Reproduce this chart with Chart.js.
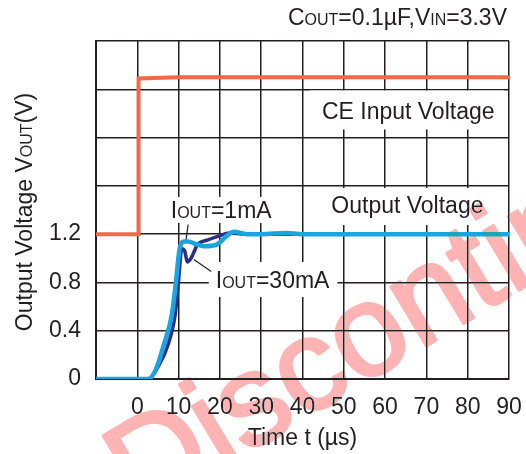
<!DOCTYPE html>
<html>
<head>
<meta charset="utf-8">
<script src="https://cdn.jsdelivr.net/npm/chart.js@4/dist/chart.umd.min.js"></script>
<style>
  body { margin: 0; background: #fff; }
  canvas { display: block; }
</style>
</head>
<body>
<canvas id="chart" width="526" height="454"></canvas>
<script>
// time axis in microseconds, voltages in volts
const ceTime = [-10, 0.3, 0.3, 10, 90];
const ceVolt = [1.2, 1.2, 2.49, 2.5, 2.5];

const out1mATime = [-10, 2.6, 4.5, 6.3, 8.4, 9.4, 10.2, 11.3, 12.3, 14, 16.1, 19, 21.8, 23.4, 26.6, 30, 36, 40, 50, 90];
const out1mAVolt = [0, 0, 0.08, 0.27, 0.54, 0.82, 1.07, 1.14, 1.14, 1.12, 1.10, 1.11, 1.19, 1.22, 1.20, 1.20, 1.21, 1.20, 1.20, 1.20];

const out30mATime = [-10, 2.8, 5, 7.3, 9.2, 10.0, 10.8, 11.5, 12.1, 13, 13.7, 14.5, 16.9, 19.3, 22.4, 26, 35, 90];
const out30mAVolt = [0, 0, 0.10, 0.27, 0.54, 0.82, 1.08, 1.06, 0.97, 1.00, 1.05, 1.11, 1.15, 1.18, 1.21, 1.20, 1.20, 1.20];

const xTicks = [-10, 0, 10, 20, 30, 40, 50, 60, 70, 80, 90];
const yTicks = [0, 0.4, 0.8, 1.2];

const ink = '#231f20';
const FONT = '"Liberation Sans", Arial, Helvetica, sans-serif';
const BIG = 23, SMALL = 16;

const zip = (xs, ys) => xs.map((x, i) => ({ x: x, y: ys[i] }));

// text pieces: [string, size]; small size gives the OUT / IN suffixes
function measureRuns(ctx, runs) {
  let w = 0;
  runs.forEach(r => {
    ctx.font = r[1] + 'px ' + FONT;
    w += ctx.measureText(r[0]).width;
  });
  return w;
}

function drawRuns(ctx, runs, x, y, align) {
  const w = measureRuns(ctx, runs);
  let cx = align === 'right' ? x - w : (align === 'center' ? x - w / 2 : x);
  ctx.textAlign = 'left';
  ctx.textBaseline = 'alphabetic';
  runs.forEach(r => {
    ctx.font = r[1] + 'px ' + FONT;
    ctx.fillText(r[0], cx, y);
    cx += ctx.measureText(r[0]).width;
  });
  return w;
}

// labels placed in data units: left/center position and baseline; pad = [top, right, bottom, left]
const notes = [
  { runs: [['CE Input Voltage', BIG]], t: 65.6, v: 2.15, align: 'center', pad: [29, 10, 10, 12] },
  { runs: [['Output Voltage', BIG]], t: 65.4, v: 1.375, align: 'center', pad: [25, 21, 12, 21] },
  { runs: [['I', BIG], ['OUT', SMALL], ['=1mA', BIG]], t: 8.1, v: 1.334, align: 'left', pad: [21, 6, 5, 5] },
  { runs: [['I', BIG], ['OUT', SMALL], ['=30mA', BIG]], t: 19, v: 0.754, align: 'left', pad: [26, 8, 9, 7] }
];

// leader lines from the current labels to their curves
const leaders = [
  { from: [12.3, 1.28], to: [11.8, 1.15] },
  { from: [13.7, 0.99], to: [17.9, 0.89] }
];

const annotations = {
  id: 'annotations',
  beforeDraw(chart) {
    const ctx = chart.ctx;
    ctx.save();
    ctx.fillStyle = '#fff';
    ctx.fillRect(0, 0, chart.width, chart.height);
    ctx.restore();
  },
  beforeDatasetsDraw(chart) {
    const ctx = chart.ctx;
    const xs = chart.scales.x, ys = chart.scales.y;
    ctx.save();
    notes.forEach(n => {
      const px = xs.getPixelForValue(n.t), py = ys.getPixelForValue(n.v);
      const w = measureRuns(ctx, n.runs);
      const left = n.align === 'center' ? px - w / 2 : px;
      ctx.fillStyle = '#fff';
      ctx.fillRect(left - n.pad[3], py - n.pad[0], w + n.pad[1] + n.pad[3], n.pad[0] + n.pad[2]);
      ctx.fillStyle = ink;
      drawRuns(ctx, n.runs, px, py, n.align);
    });
    ctx.strokeStyle = ink;
    ctx.lineWidth = 1.2;
    leaders.forEach(l => {
      ctx.beginPath();
      ctx.moveTo(xs.getPixelForValue(l.from[0]), ys.getPixelForValue(l.from[1]));
      ctx.lineTo(xs.getPixelForValue(l.to[0]), ys.getPixelForValue(l.to[1]));
      ctx.stroke();
    });
    ctx.restore();
  },
  afterDraw(chart) {
    const ctx = chart.ctx;
    const area = chart.chartArea;
    ctx.save();
    ctx.fillStyle = ink;
    // conditions, top right
    drawRuns(ctx, [['C', BIG], ['OUT', SMALL], ['=0.1\u00b5F,V', BIG], ['IN', SMALL], ['=3.3V', BIG]],
      area.right - 2, area.top - 16, 'right');
    // axis titles
    drawRuns(ctx, [['Time t (\u00b5s)', BIG]], (area.left + area.right) / 2, 445, 'center');
    ctx.save();
    ctx.translate(32, (area.top + area.bottom) / 2 + 2);
    ctx.rotate(-Math.PI / 2);
    drawRuns(ctx, [['Output Voltage V', BIG], ['OUT', SMALL], ['(V)', BIG]], 0, 0, 'center');
    ctx.restore();

    // status stamp across the plot; darken keeps black ink black where it crosses
    ctx.globalCompositeOperation = 'darken';
    ctx.fillStyle = '#ffb3b3';
    ctx.strokeStyle = '#ffb3b3';
    ctx.translate(140, 518);
    ctx.rotate(-31 * Math.PI / 180);
    ctx.font = '130px ' + FONT;
    ctx.textAlign = 'left';
    ctx.textBaseline = 'alphabetic';
    ctx.lineWidth = 3;
    ctx.lineJoin = 'round';
    ctx.strokeText('Discontinued', 0, 0);
    ctx.fillText('Discontinued', 0, 0);
    ctx.restore();
  }
};

new Chart(document.getElementById('chart'), {
  type: 'line',
  data: {
    datasets: [
      {
        label: 'CE Input Voltage',
        data: zip(ceTime, ceVolt),
        borderColor: '#f1694a',
        borderWidth: 4,
        tension: 0,
        order: 0
      },
      {
        label: 'IOUT=1mA',
        data: zip(out1mATime, out1mAVolt),
        borderColor: '#17a6e0',
        borderWidth: 4.5,
        cubicInterpolationMode: 'monotone',
        order: 1
      },
      {
        label: 'IOUT=30mA',
        data: zip(out30mATime, out30mAVolt),
        borderColor: '#2b2e8c',
        borderWidth: 3.5,
        cubicInterpolationMode: 'monotone',
        order: 2
      }
    ]
  },
  options: {
    responsive: false,
    animation: false,
    layout: { padding: { top: 41, right: 17, left: 0, bottom: 0 } },
    elements: { point: { radius: 0 } },
    plugins: {
      legend: { display: false },
      tooltip: { enabled: false }
    },
    scales: {
      x: {
        type: 'linear',
        min: -10,
        max: 90,
        afterFit: s => { s.height = 75; s.paddingLeft = 0; s.paddingRight = 0; },
        afterBuildTicks: s => { s.ticks = xTicks.map(v => ({ value: v })); },
        ticks: {
          color: ink,
          font: { family: FONT, size: BIG },
          padding: 15,
          maxRotation: 0,
          autoSkip: false,
          callback: v => (v < 0 ? '' : String(v))
        },
        grid: { color: ink, lineWidth: 1.5, drawTicks: false },
        border: { color: ink, width: 2 }
      },
      y: {
        type: 'linear',
        min: 0,
        max: 2.8,
        afterFit: s => { s.width = 96; s.paddingTop = 0; s.paddingBottom = 0; },
        ticks: {
          stepSize: 0.4,
          color: ink,
          font: { family: FONT, size: BIG },
          padding: 15,
          callback: v => (yTicks.some(t => Math.abs(t - v) < 1e-6) ? (v === 0 ? '0' : v.toFixed(1)) : '')
        },
        grid: { color: ink, lineWidth: 1.5, drawTicks: false },
        border: { color: ink, width: 2 }
      }
    }
  },
  plugins: [annotations]
});
</script>
</body>
</html>
